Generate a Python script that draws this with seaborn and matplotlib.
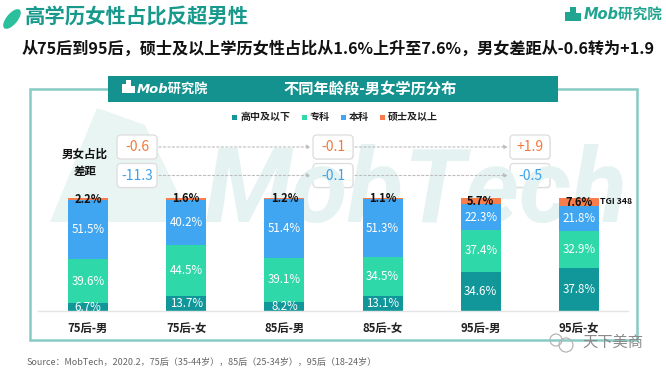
import matplotlib
matplotlib.use("Agg")
import matplotlib.pyplot as plt
from matplotlib.patches import Rectangle, FancyBboxPatch, Polygon, Ellipse, Circle
import seaborn as sns
import pandas as pd
import numpy as np

# ---------------- data ----------------
categories = ['75后-男', '75后-女', '85后-男', '85后-女', '95后-男', '95后-女']
series_names = ['高中及以下', '专科', '本科', '硕士及以上']
high_school = [6.7, 13.7, 8.2, 13.1, 34.6, 37.8]
junior_college = [39.6, 44.5, 39.1, 34.5, 37.4, 32.9]
bachelor = [51.5, 40.2, 51.4, 51.3, 22.3, 21.8]
master_plus = [2.2, 1.6, 1.2, 1.1, 5.7, 7.6]
tgi_label = 'TGI 348'

title = '高学历女性占比反超男性'
subtitle = '从75后到95后，硕士及以上学历女性占比从1.6%上升至7.6%，男女差距从-0.6转为+1.9'
chart_title = '不同年龄段-男女学历分布'
gap_label = '男女占比\n差距'
source = 'Source：MobTech，2020.2，75后（35-44岁），85后（25-34岁），95后（18-24岁）'

colors = ['#11979a', '#2fd8a9', '#41a6f1', '#f77d4c']
teal = '#17998b'

sns.set_theme(style='white')
plt.rcParams['font.family'] = ['Noto Sans CJK SC', 'DejaVu Sans']

W, H = 666, 373
fig = plt.figure(figsize=(W / 100, H / 100), dpi=100)
fig.patch.set_facecolor('white')

# overlay axes in pixel coordinates
ov = fig.add_axes([0, 0, 1, 1], zorder=0)
ov.set_xlim(0, W)
ov.set_ylim(H, 0)
ov.axis('off')

# ---------------- headline ----------------
ov.add_patch(Ellipse((12, 19), 24, 11, angle=-50, color='#2bbf9e', lw=0))
ov.text(25, 17, title, fontsize=14.7, fontweight='bold', color=teal,
        ha='left', va='center')
ov.text(22, 49, subtitle, fontsize=11.65, fontweight='bold', color='#111111',
        ha='left', va='center')

# top right logo
for (x0, y0, w, h) in [(565, 12, 5, 9), (570, 7, 6, 14), (576, 13, 5, 8)]:
    ov.add_patch(Rectangle((x0, y0), w, h, color='#1fa590', lw=0))
ov.text(584, 14, 'Mob研究院', fontsize=10.5, fontweight='bold', style='italic',
        color='#1fa590', ha='left', va='center',
        family=['DejaVu Sans', 'Noto Sans CJK SC'])

# ---------------- frame ----------------
ov.add_patch(Rectangle((30, 89), 607, 251, fill=False, edgecolor='#86cbc4', lw=1.8))
ov.add_patch(Rectangle((108, 76), 450, 26, color='#13928f', lw=0))
for (x0, y0, w, h) in [(122, 84, 4, 9), (126, 80, 5, 13), (131, 86, 4, 7)]:
    ov.add_patch(Rectangle((x0, y0), w, h, color='white', lw=0))
ov.text(137, 89, 'Mob研究院', fontsize=9.5, fontweight='bold', style='italic',
        color='white', ha='left', va='center',
        family=['DejaVu Sans', 'Noto Sans CJK SC'])
ov.text(370, 89, chart_title, fontsize=11, fontweight='bold', color='white',
        ha='center', va='center')

# watermark
ov.add_patch(Polygon([(50, 222), (97, 108), (145, 125), (192, 222)],
                     closed=True, color='#e8f5f3', lw=0))
ov.text(205, 222, 'MobTech', fontsize=74, fontweight='bold', style='italic',
        color='#e4f3f1', ha='left', va='baseline',
        family=['Liberation Sans Narrow', 'Roboto', 'DejaVu Sans'])

# legend
leg_x = [232, 302, 341, 380]
for xs, name, c in zip(leg_x, series_names, colors):
    ov.add_patch(Rectangle((xs, 114.5), 5, 5, color=c, lw=0))
    ov.text(xs + 8, 117, name, fontsize=7.2, fontweight='bold', color='#222222',
            ha='left', va='center')

# gap label
ov.text(85, 163, gap_label, fontsize=8.3, fontweight='bold', color='#111111',
        ha='center', va='center', linespacing=1.45)

# gap boxes (female - male)
gap_master = [round(master_plus[i + 1] - master_plus[i], 1) for i in (0, 2, 4)]
gap_bachelor = [round(bachelor[i + 1] - bachelor[i], 1) for i in (0, 2, 4)]
box_cx = [137, 333, 530]
rows = [(147, gap_master, '#f37a3e'), (175.5, gap_bachelor, '#3da2ea')]
for cy, vals, tc in rows:
    for k, (cx, v) in enumerate(zip(box_cx, vals)):
        ov.add_patch(FancyBboxPatch((cx - 20 + 1, cy - 12 + 1), 40, 24,
                                    boxstyle='round,pad=0,rounding_size=4',
                                    facecolor='#f0f0f0', edgecolor='none', lw=0))
        ov.add_patch(FancyBboxPatch((cx - 20, cy - 12), 40, 24,
                                    boxstyle='round,pad=0,rounding_size=4',
                                    facecolor='white', edgecolor='#dddddd', lw=0.9))
        txt = f'{v:+.1f}' if v > 0 else f'{v:.1f}'
        ov.text(cx, cy, txt, fontsize=10, color=tc, ha='center', va='center')
        if k < 2:
            ov.annotate('', xy=(box_cx[k + 1] - 22, cy), xytext=(cx + 22, cy),
                        arrowprops=dict(arrowstyle='-|>', color='#bdbdbd', lw=0.8,
                                        linestyle=(0, (2, 2)), mutation_scale=6,
                                        shrinkA=0, shrinkB=0))

# ---------------- bars ----------------
x_left, x_right, y_bot, y_top = 38, 628, 311, 198
ax = fig.add_axes([x_left / W, 1 - y_bot / H, (x_right - x_left) / W, (y_bot - y_top) / H],
                  zorder=1)
ax.patch.set_alpha(0)

segs = np.array([high_school, junior_college, bachelor, master_plus])
cum = np.cumsum(segs, axis=0)
df = pd.DataFrame({'cat': categories, 'c1': cum[0], 'c2': cum[1], 'c3': cum[2], 'c4': cum[3]})
bw = 40 / 98.2
for col, c in zip(['c4', 'c3', 'c2', 'c1'], colors[::-1]):
    sns.barplot(data=df, x='cat', y=col, order=categories, color=c, width=bw,
                saturation=1, errorbar=None, linewidth=0, ax=ax)

ax.set_xlim(-50 / 98.2, 5 + 49 / 98.2)
ax.set_ylim(0, 100)
ax.set_xlabel('')
ax.set_ylabel('')
ax.set_yticks([])
for s in ['top', 'right', 'left']:
    ax.spines[s].set_visible(False)
ax.spines['bottom'].set_color('#e4e4e4')
ax.spines['bottom'].set_linewidth(1)
ax.tick_params(axis='x', length=0, pad=8, labelsize=8.2, labelcolor='#222222')
for lab in ax.get_xticklabels():
    lab.set_fontweight('bold')

for i in range(len(categories)):
    bottom = 0
    for j in range(4):
        v = segs[j, i]
        yc = bottom + v / 2
        if j < 3:
            ax.text(i, yc, f'{v:.1f}%', color='white', fontsize=8.3,
                    ha='center', va='center')
        else:
            ax.text(i, yc, f'{v:.1f}%', color='#111111', fontsize=8,
                    fontweight='bold', ha='center', va='center')
        bottom += v

ov.text(600, 202, tgi_label, fontsize=6.3, fontweight='bold', color='#111111',
        ha='left', va='center')

# ---------------- footer ----------------
ov.text(27, 362, source, fontsize=6.5, color='#666666', ha='left', va='center')
ov.add_patch(Circle((556, 340), 6, fill=False, edgecolor='#b5b5b5', lw=0.9))
ov.add_patch(Circle((566, 345), 7, fill=False, edgecolor='#b5b5b5', lw=0.9))
ov.text(582, 342, '天下美商', fontsize=11, color='#8a8a8a', ha='left', va='center')

fig.savefig('out.png', dpi=100, facecolor='white')
